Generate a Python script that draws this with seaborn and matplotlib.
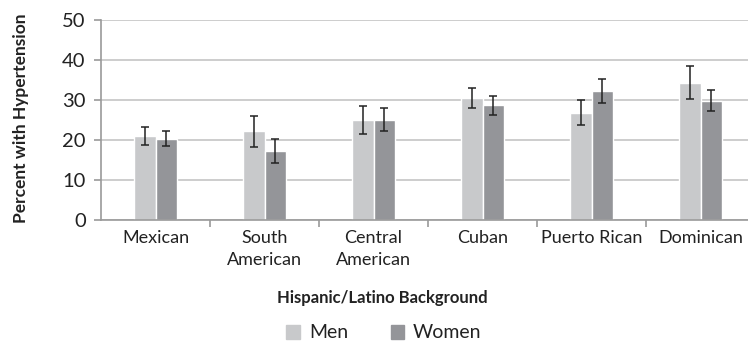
import matplotlib
matplotlib.use("Agg")
import matplotlib.pyplot as plt
import seaborn as sns
import pandas as pd
import numpy as np

# Prevalence of hypertension by Hispanic/Latino background and sex
backgrounds = ["Mexican", "South\nAmerican", "Central\nAmerican", "Cuban", "Puerto Rican", "Dominican"]
sexes = ["Men", "Women"]
men_pct = [21.0, 22.2, 24.9, 30.5, 26.8, 34.3]
men_lo = [18.7, 18.3, 21.5, 28.1, 23.8, 30.3]
men_hi = [23.3, 25.9, 28.4, 33.1, 29.9, 38.4]
women_pct = [20.3, 17.2, 25.0, 28.7, 32.2, 29.8]
women_lo = [18.4, 14.3, 22.2, 26.3, 29.2, 27.2]
women_hi = [22.2, 20.2, 27.9, 30.9, 35.2, 32.4]
y_ticks = [0, 10, 20, 30, 40, 50]

df = pd.DataFrame({
    "background": backgrounds * 2,
    "sex": ["Men"] * len(backgrounds) + ["Women"] * len(backgrounds),
    "pct": men_pct + women_pct,
})

sns.set_theme(style="white")
plt.rcParams["font.family"] = ["Lato", "DejaVu Sans"]

fig = plt.figure(figsize=(7.48, 3.46), dpi=100)
ax = fig.add_axes([101 / 748, 1 - 220 / 346, (755 - 101) / 748, 200 / 346])

palette = {"Men": "#c8c9cb", "Women": "#949599"}
sns.barplot(data=df, x="background", y="pct", hue="sex", hue_order=sexes,
            order=backgrounds, palette=palette, width=0.4, gap=0,
            errorbar=None, saturation=1, ax=ax, legend=False, zorder=2)

# Confidence intervals on each bar
ci = {"Men": (men_pct, men_lo, men_hi), "Women": (women_pct, women_lo, women_hi)}
for container, sex in zip(ax.containers, sexes):
    vals, lo, hi = (np.array(a) for a in ci[sex])
    xs = [p.get_x() + p.get_width() / 2 for p in container.patches]
    ax.errorbar(xs, vals, yerr=[vals - lo, hi - vals], fmt="none",
                ecolor="#222222", elinewidth=1.1, capsize=3, capthick=1.1, zorder=3)

ax.set_ylim(0, 50)
ax.set_yticks(y_ticks)
ax.set_xlim(-0.5, 5.5)
ax.yaxis.grid(True, color="#c9c9c9", linewidth=1.3, zorder=0)
ax.set_axisbelow(True)

for side in ["top", "right"]:
    ax.spines[side].set_visible(False)
for side in ["left", "bottom"]:
    ax.spines[side].set_color("#9a9a9a")
    ax.spines[side].set_linewidth(1.2)

# Category boundary ticks on the x axis
ax.set_xticks(np.arange(0.5, 5.5, 1.0), minor=True)
ax.tick_params(axis="x", which="minor", length=5, color="#9a9a9a", width=1.2, bottom=True)
ax.tick_params(axis="x", which="major", length=0, labelsize=13, labelcolor="#222222", pad=7)
for lbl in ax.get_xticklabels():
    lbl.set_linespacing(1.45)
ax.tick_params(axis="y", which="major", length=5, color="#9a9a9a", width=1.2, left=True,
               labelsize=14.5, labelcolor="#222222", pad=6)
ax.set_xlabel("")
ax.set_ylabel("")

fig.text(21 / 748, 1 - 118 / 346, "Percent with Hypertension", rotation=90,
         ha="center", va="center", fontsize=12.5, fontweight="bold", color="#222222")
fig.text(382 / 748, 1 - 298 / 346, "Hispanic/Latino Background", ha="center", va="center",
         fontsize=12, fontweight="bold", color="#222222")

handles = [plt.Rectangle((0, 0), 1, 1, color=palette[s]) for s in sexes]
fig.legend(handles, sexes, loc="center", bbox_to_anchor=(384 / 748, 1 - 333 / 346), ncol=2,
           frameon=False, fontsize=14, handlelength=0.7, handleheight=0.7,
           handletextpad=0.45, columnspacing=2.2, labelcolor="#222222")

fig.savefig("out.png", dpi=100)
